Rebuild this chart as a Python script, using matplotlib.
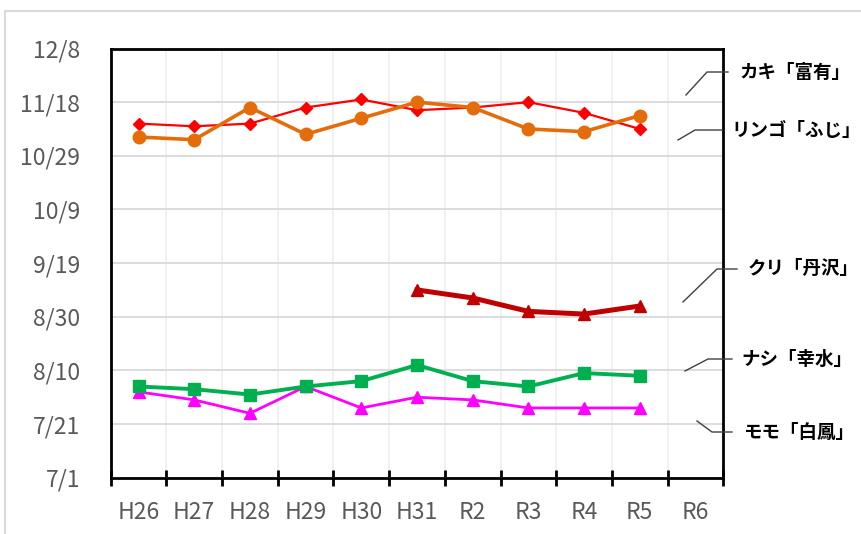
import numpy as np
import pandas as pd
import matplotlib
matplotlib.use("Agg")
import matplotlib.pyplot as plt
import matplotlib.dates as mdates
from matplotlib.lines import Line2D
from matplotlib.ticker import FixedLocator, FuncFormatter, NullFormatter

plt.rcParams['font.family'] = ['Noto Sans CJK JP', 'DejaVu Sans']

# --- data (harvest dates, month/day) ---
years = ["H26", "H27", "H28", "H29", "H30", "H31", "R2", "R3", "R4", "R5", "R6"]
kaki = ["11/10", "11/9", "11/10", "11/16", "11/19", "11/15", "11/16", "11/18", "11/14", "11/8"]
ringo = ["11/5", "11/4", "11/16", "11/6", "11/12", "11/18", "11/16", "11/8", "11/7", "11/13"]
kuri = [None, None, None, None, None, "9/9", "9/6", "9/1", "8/31", "9/3"]
nashi = ["8/4", "8/3", "8/1", "8/4", "8/6", "8/12", "8/6", "8/4", "8/9", "8/8"]
momo = ["8/2", "7/30", "7/25", "8/4", "7/27", "7/31", "7/30", "7/27", "7/27", "7/27"]
names = ["カキ「富有」", "リンゴ「ふじ」", "クリ「丹沢」", "ナシ「幸水」", "モモ「白鳳」"]

y_start = "7/1"
y_end = "12/8"
y_step = 20  # days

def to_num(lst):
    return np.array([mdates.date2num(pd.Timestamp("2001/" + s)) if s else np.nan for s in lst])

fig = plt.figure(figsize=(8.61, 5.34), dpi=100)
ax = fig.add_axes([110.7/861, 1-477.7/534, (723.3-110.7)/861, (477.7-48.5)/534])

x = np.arange(len(kaki))
ax.plot(x, to_num(kaki), color="#FF0000", lw=1.6, marker="D", ms=6.5, zorder=3)
ax.plot(x, to_num(ringo), color="#E46C0A", lw=2.6, marker="o", ms=9, zorder=4)
ax.plot(x, to_num(kuri), color="#C00000", lw=3.6, marker="^", ms=9, zorder=3)
ax.plot(x, to_num(momo), color="#FF00FF", lw=2.0, marker="^", ms=9, zorder=3)
ax.plot(x, to_num(nashi), color="#00B050", lw=2.8, marker="s", ms=9, zorder=4)

y0 = mdates.date2num(pd.Timestamp("2001/" + y_start))
y1 = mdates.date2num(pd.Timestamp("2001/" + y_end))
ax.set_ylim(y0, y1)
ax.set_yticks(np.arange(y0, y1 + 1, y_step))
ax.yaxis.set_major_formatter(FuncFormatter(
    lambda v, p: f"{mdates.num2date(v).month}/{mdates.num2date(v).day}"))

ax.set_xlim(-0.5, len(years) - 0.5)
ax.xaxis.set_major_locator(FixedLocator(np.arange(-0.5, len(years), 1)))
ax.xaxis.set_major_formatter(NullFormatter())
ax.xaxis.set_minor_locator(FixedLocator(np.arange(len(years))))
ax.set_xticklabels(years, minor=True)

ax.grid(axis="y", color="#D9D9D9", lw=1.3, zorder=0)
ax.grid(axis="x", which="major", color="#F0F0F0", lw=1.3, zorder=0)
ax.set_axisbelow(True)

for s in ax.spines.values():
    s.set_linewidth(2)
    s.set_color("black")

ax.tick_params(axis="y", length=0, pad=22, labelsize=16.5, labelcolor="#595959")
ax.tick_params(axis="x", which="major", direction="inout", length=11, width=2)
ax.tick_params(axis="x", which="minor", length=0, pad=17, labelsize=16.5, labelcolor="#595959")

# outer chart frame
fig.add_artist(Line2D([5/861, 5/861], [0, 1-11/534], color="#D9D9D9", lw=1.5))
fig.add_artist(Line2D([5/861, 1], [1-11/534, 1-11/534], color="#D9D9D9", lw=1.5))

# leader lines and labels (pixel positions)
leaders = [
    [(686, 95), (707, 72), (728, 72)],
    [(678, 140), (695, 130), (722, 130)],
    [(683, 302), (717, 269), (737, 269)],
    [(685, 371), (708, 359), (732, 359)],
    [(697, 421), (712, 432), (732, 432)],
]
label_pos = [(739, 72), (731, 130), (748, 269), (741, 359), (743, 432)]
for pts, (lx, ly), name in zip(leaders, label_pos, names):
    px = [p[0]/861 for p in pts]
    py = [1 - p[1]/534 for p in pts]
    fig.add_artist(Line2D(px, py, color="#404040", lw=1))
    fig.text(lx/861, 1 - ly/534, name, fontsize=13.3, fontweight="bold",
             ha="left", va="center", color="black")

fig.savefig("out.png", dpi=100)
